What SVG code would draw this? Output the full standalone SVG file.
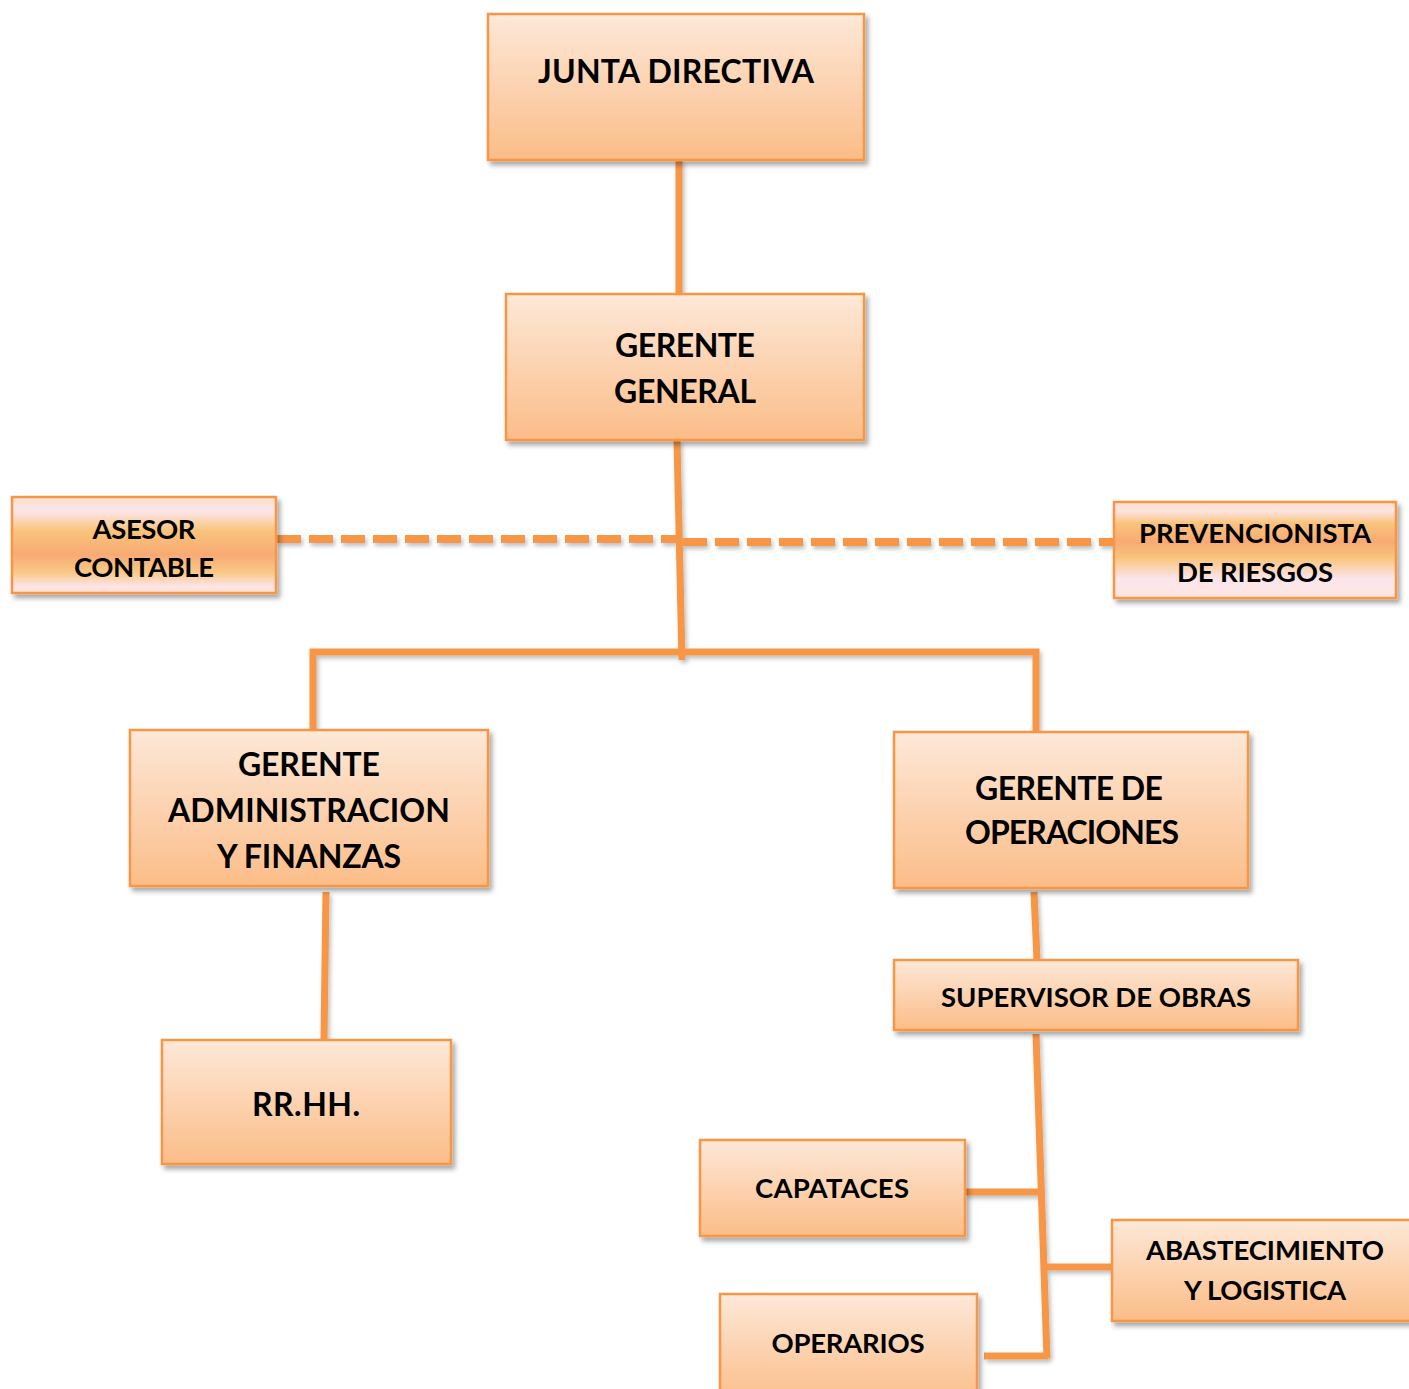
<svg xmlns="http://www.w3.org/2000/svg" width="1409" height="1389" viewBox="0 0 1409 1389">
<defs>
<linearGradient id="gMain" x1="0" y1="0" x2="0" y2="1">
<stop offset="0" stop-color="#FDE8D8"/>
<stop offset="1" stop-color="#FBBD88"/>
</linearGradient>
<linearGradient id="gBandA" x1="0" y1="0" x2="0" y2="1">
<stop offset="0" stop-color="#FDE0CF"/>
<stop offset="0.15" stop-color="#FCE5EA"/>
<stop offset="0.35" stop-color="#F9C47C"/>
<stop offset="0.6" stop-color="#F8AA74"/>
<stop offset="0.79" stop-color="#F9CA86"/>
<stop offset="0.93" stop-color="#FCE4E8"/>
<stop offset="1" stop-color="#FDE2D4"/>
</linearGradient>
<linearGradient id="gBandB" x1="0" y1="0" x2="0" y2="1">
<stop offset="0" stop-color="#FDE0CF"/>
<stop offset="0.1" stop-color="#FCE2E0"/>
<stop offset="0.22" stop-color="#F9C47C"/>
<stop offset="0.42" stop-color="#F8AA74"/>
<stop offset="0.58" stop-color="#F9C47C"/>
<stop offset="0.8" stop-color="#FCE5EC"/>
<stop offset="1" stop-color="#FDE6E0"/>
</linearGradient>
<filter id="sh" x="-10%" y="-10%" width="130%" height="140%">
<feDropShadow dx="3" dy="4" stdDeviation="2.5" flood-color="#000" flood-opacity="0.35"/>
</filter>
<filter id="shl" filterUnits="userSpaceOnUse" x="0" y="0" width="1409" height="1389">
<feDropShadow dx="2" dy="3" stdDeviation="2" flood-color="#000" flood-opacity="0.25"/>
</filter>
</defs>
<style>
.box{stroke:#F79646;stroke-width:2.5;filter:url(#sh)}
.main{fill:url(#gMain)}
.t{font-family:Lato,"Liberation Sans",sans-serif;font-weight:bold;fill:#000;text-anchor:middle}
.big{font-size:32px}
.sm{font-size:27.5px}
.ln{stroke:#F79646;stroke-width:7;fill:none;stroke-linecap:butt}
.dash{stroke:#F79646;stroke-width:8;fill:none;stroke-dasharray:24 8}
</style>
<g id="connectors" filter="url(#shl)">
<line class="ln" x1="679" y1="160" x2="679" y2="294"/>
<line class="ln" x1="677" y1="440" x2="682" y2="660"/>
<line class="dash" x1="277" y1="539" x2="679" y2="539"/>
<line class="dash" x1="683" y1="542" x2="1113" y2="542"/>
<polyline class="ln" points="313,729 313,652 1036,652 1036,732"/>
<line class="ln" x1="326" y1="892" x2="324" y2="1040"/>
<line class="ln" x1="1034" y1="892" x2="1037" y2="960"/>
<line class="ln" x1="1036" y1="1034" x2="1047" y2="1358"/>
<line class="ln" x1="965" y1="1192" x2="1041" y2="1192"/>
<line class="ln" x1="1047" y1="1267" x2="1112" y2="1267"/>
<line class="ln" x1="984" y1="1356" x2="1048" y2="1356"/>
</g>
<g id="junta">
<rect class="box main" x="488" y="14" width="376" height="146"/>
<text class="t big" x="676" y="83" textLength="276">JUNTA DIRECTIVA</text>
</g>
<g id="gerente-general">
<rect class="box main" x="506" y="294" width="358" height="146"/>
<text class="t big" x="685" y="357" textLength="140">GERENTE</text>
<text class="t big" x="685" y="403" textLength="142">GENERAL</text>
</g>
<g id="asesor">
<rect class="box" fill="url(#gBandA)" x="12" y="497" width="264" height="96"/>
<text class="t sm" x="144" y="539" textLength="103">ASESOR</text>
<text class="t sm" x="144" y="577" textLength="140">CONTABLE</text>
</g>
<g id="prevencionista">
<rect class="box" fill="url(#gBandB)" x="1114" y="502" width="282" height="96"/>
<text class="t sm" x="1255" y="543" textLength="232">PREVENCIONISTA</text>
<text class="t sm" x="1255" y="582" textLength="156">DE RIESGOS</text>
</g>
<g id="gerente-admin">
<rect class="box main" x="130" y="730" width="358" height="156"/>
<text class="t big" x="309" y="776" textLength="142">GERENTE</text>
<text class="t big" x="309" y="822" textLength="282">ADMINISTRACION</text>
<text class="t big" x="309" y="868" textLength="184">Y FINANZAS</text>
</g>
<g id="gerente-operaciones">
<rect class="box main" x="894" y="732" width="354" height="156"/>
<text class="t big" x="1069" y="800" textLength="188">GERENTE DE</text>
<text class="t big" x="1072" y="844" textLength="214">OPERACIONES</text>
</g>
<g id="rrhh">
<rect class="box main" x="162" y="1040" width="289" height="124"/>
<text class="t big" x="306" y="1116" textLength="108">RR.HH.</text>
</g>
<g id="supervisor">
<rect class="box main" x="894" y="960" width="404" height="70"/>
<text class="t sm" x="1096" y="1007" textLength="310">SUPERVISOR DE OBRAS</text>
</g>
<g id="capataces">
<rect class="box main" x="700" y="1140" width="265" height="96"/>
<text class="t sm" x="832" y="1198" textLength="154">CAPATACES</text>
</g>
<g id="abastecimiento">
<rect class="box main" x="1112" y="1220" width="305" height="101"/>
<text class="t sm" x="1265" y="1260" textLength="238">ABASTECIMIENTO</text>
<text class="t sm" x="1265" y="1300" textLength="162">Y LOGISTICA</text>
</g>
<g id="operarios">
<rect class="box main" x="720" y="1294" width="257" height="110"/>
<text class="t sm" x="848" y="1353" textLength="153">OPERARIOS</text>
</g>
</svg>
